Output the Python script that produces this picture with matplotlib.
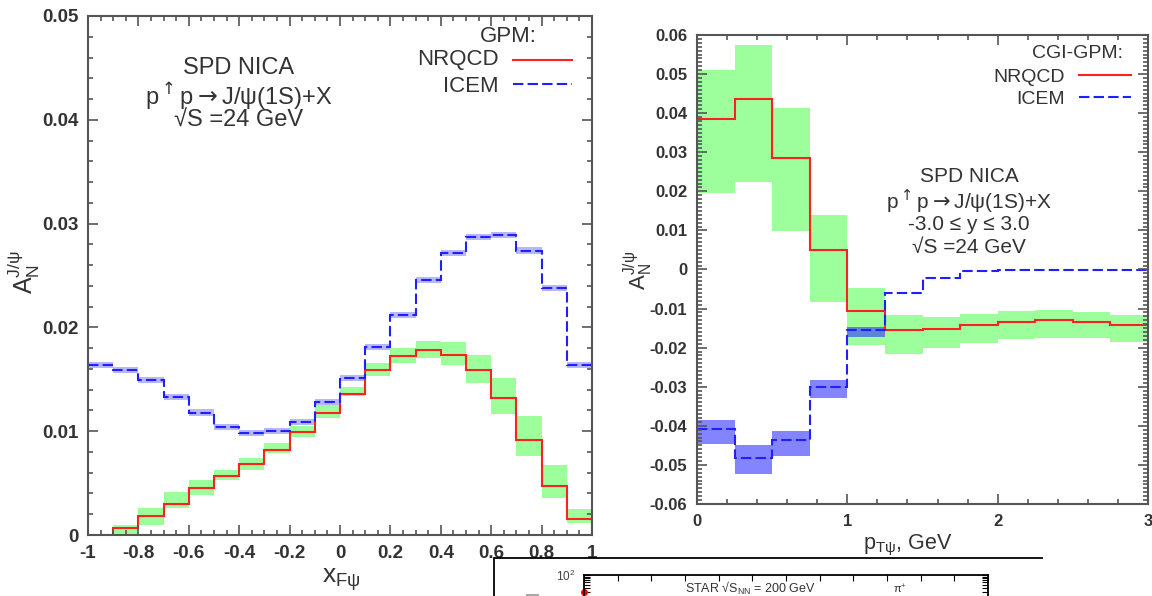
import numpy as np
import matplotlib.pyplot as plt
from matplotlib.lines import Line2D
from matplotlib.ticker import MultipleLocator, FuncFormatter

plt.rcParams['font.family'] = ['Liberation Sans', 'DejaVu Sans']
plt.rcParams['mathtext.fontset'] = 'custom'
plt.rcParams['mathtext.rm'] = 'Liberation Sans'
plt.rcParams['mathtext.it'] = 'Liberation Sans:italic'
plt.rcParams['mathtext.bf'] = 'Liberation Sans:bold'

W, H = 1152, 596

# left panel: A_N vs x_F (GPM)
xf_edges = np.round(np.linspace(-1, 1, 21), 3)
icem_xf = [0.0164, 0.0159, 0.0149, 0.0133, 0.0118, 0.0104, 0.0098, 0.0100, 0.0109, 0.0128,
           0.0151, 0.0181, 0.0212, 0.0246, 0.0272, 0.0287, 0.0289, 0.0274, 0.0238, 0.0164]
icem_xf_err = 0.0003
nrqcd_xf_edges = np.round(np.linspace(-0.9, 1, 20), 3)
nrqcd_xf = [0.00065, 0.0018, 0.0030, 0.0045, 0.0057, 0.0068, 0.0082, 0.0099, 0.0118, 0.0136,
            0.0159, 0.0172, 0.0178, 0.0173, 0.0159, 0.0132, 0.0092, 0.00475, 0.0015]
nrqcd_xf_lo = [0.0, 0.00096, 0.00257, 0.00385, 0.0053, 0.00626, 0.00787, 0.00947, 0.01124, 0.01339,
               0.01532, 0.01654, 0.01702, 0.01638, 0.01461, 0.01163, 0.00764, 0.00354, 0.00119]
nrqcd_xf_hi = [0.00096, 0.00257, 0.0041, 0.0053, 0.0063, 0.00745, 0.00883, 0.01053, 0.01252, 0.01429,
               0.01654, 0.01798, 0.01869, 0.01856, 0.01734, 0.01515, 0.01146, 0.00674, 0.00248]

# right panel: A_N vs pT (CGI-GPM)
pt_edges = np.linspace(0, 3, 13)
nrqcd_pt = [0.0386, 0.0435, 0.0286, 0.0050, -0.0106, -0.0155, -0.0152, -0.0142, -0.0134, -0.0129, -0.0134, -0.0142]
nrqcd_pt_hi = [0.0510, 0.0574, 0.0412, 0.0140, -0.0048, -0.0117, -0.0121, -0.0114, -0.0106, -0.0104, -0.0108, -0.0117]
nrqcd_pt_lo = [0.0197, 0.0224, 0.0099, -0.0083, -0.0192, -0.0217, -0.0200, -0.0189, -0.0179, -0.0174, -0.0176, -0.0185]
icem_pt = [-0.0407, -0.0482, -0.0435, -0.0300, -0.0155, -0.0061, -0.0021, -0.0004, 0.0, 0.0, 0.0, 0.0]
icem_pt_hi = [-0.0386, -0.0450, -0.0412, -0.0282, -0.0148]
icem_pt_lo = [-0.0446, -0.0523, -0.0476, -0.0328, -0.0172]

RED = '#ff2020'
BLUE = '#2020ff'
GREEN = '#9cff9c'
DASH = (0, (5, 2))
TXT = '#333333'


def px(x, y):
    return x / W, 1 - y / H


def axes_px(left, top, right, bottom):
    return [left / W, 1 - bottom / H, (right - left) / W, (bottom - top) / H]


def fmt(v, pos):
    v = round(v, 4)
    if v == 0:
        return '0'
    return f'{v:g}'


def style(ax, size):
    for s in ax.spines.values():
        s.set_linewidth(1.5)
        s.set_color('#555555')
    ax.tick_params(which='both', direction='in', top=True, right=True, color='#555555', width=1.2)
    ax.tick_params(which='major', length=7, labelsize=size, labelcolor=TXT, pad=7)
    ax.tick_params(which='minor', length=3.5)
    for lab in ax.get_xticklabels() + ax.get_yticklabels():
        lab.set_fontweight('bold')
    ax.xaxis.set_major_formatter(FuncFormatter(fmt))
    ax.yaxis.set_major_formatter(FuncFormatter(fmt))


fig = plt.figure(figsize=(W / 100, H / 100), dpi=100)

# ---- left panel
ax1 = fig.add_axes(axes_px(88, 16, 592, 535))
ax1.stairs(nrqcd_xf_hi, nrqcd_xf_edges, baseline=nrqcd_xf_lo, fill=True, color=GREEN, lw=0)
ax1.stairs(np.array(icem_xf) + icem_xf_err, xf_edges, baseline=np.array(icem_xf) - icem_xf_err,
           fill=True, color='#3333ff', alpha=0.35, lw=0)
ax1.stairs(nrqcd_xf, nrqcd_xf_edges, baseline=0, color=RED, lw=1.5)
ax1.stairs(icem_xf, xf_edges, baseline=None, color=BLUE, lw=1.5, linestyle=DASH)
ax1.set_xlim(-1, 1)
ax1.set_ylim(0, 0.05)
ax1.xaxis.set_major_locator(MultipleLocator(0.2))
ax1.xaxis.set_minor_locator(MultipleLocator(0.05))
ax1.yaxis.set_major_locator(MultipleLocator(0.01))
ax1.yaxis.set_minor_locator(MultipleLocator(0.002))
style(ax1, 13.5)

# ---- right panel
ax2 = fig.add_axes(axes_px(697, 35, 1148, 504))
ax2.stairs(nrqcd_pt_hi, pt_edges, baseline=nrqcd_pt_lo, fill=True, color=GREEN, lw=0)
ax2.stairs(icem_pt_hi, pt_edges[:len(icem_pt_hi) + 1], baseline=icem_pt_lo, fill=True,
           color='#3333ff', alpha=0.6, lw=0)
ax2.stairs(nrqcd_pt, pt_edges, baseline=None, color=RED, lw=1.5)
ax2.stairs(icem_pt, pt_edges, baseline=None, color=BLUE, lw=1.5, linestyle=DASH)
ax2.set_xlim(0, 3)
ax2.set_ylim(-0.06, 0.06)
ax2.xaxis.set_major_locator(MultipleLocator(1))
ax2.xaxis.set_minor_locator(MultipleLocator(0.2))
ax2.yaxis.set_major_locator(MultipleLocator(0.01))
ax2.yaxis.set_minor_locator(MultipleLocator(0.001))
style(ax2, 12)

# axis titles
ylab = r'$\mathregular{A_N^{J/\psi}}$'
fig.text(*px(24, 272), ylab, fontsize=18, color=TXT, rotation=90, ha='center', va='center')
fig.text(*px(638, 270), ylab, fontsize=16, color=TXT, rotation=90, ha='center', va='center')
fig.text(*px(341, 580), r'$\mathregular{x_{F\psi}}$', fontsize=19, color=TXT, ha='center', va='center')
fig.text(*px(908, 545), r'$\mathregular{p_{T\psi}}$, GeV', fontsize=15.5, color=TXT, ha='center', va='center')

# annotations (arrows taken from DejaVu math so they sit at mid height)
proc = r'p$^{\uparrow}$p$\rightarrow$J/ψ(1S)+X'
for txt, y in [('SPD NICA', 68), (proc, 96), ('√S =24 GeV', 121)]:
    fig.text(*px(239, y), txt, fontsize=17, color=TXT, ha='center', va='center',
             math_fontfamily='dejavusans')
for txt, y in [('SPD NICA', 177), (proc, 201), ('-3.0 ≤ y ≤ 3.0', 225), ('√S =24 GeV', 247)]:
    fig.text(*px(969, y), txt, fontsize=15, color=TXT, ha='center', va='center',
             math_fontfamily='dejavusans')

# legends
fig.text(*px(537, 36), 'GPM:', fontsize=16, color=TXT, ha='right', va='center')
fig.text(*px(499, 60), 'NRQCD', fontsize=16, color=TXT, ha='right', va='center')
fig.text(*px(499, 86), 'ICEM', fontsize=16, color=TXT, ha='right', va='center')
fig.add_artist(Line2D([513 / W, 572 / W], [1 - 60 / H] * 2, color=RED, lw=1.5))
fig.add_artist(Line2D([513 / W, 572 / W], [1 - 84 / H] * 2, color=BLUE, lw=1.5, linestyle=DASH))

fig.text(*px(1123, 54), 'CGI-GPM:', fontsize=14, color=TXT, ha='right', va='center')
fig.text(*px(1065, 77), 'NRQCD', fontsize=14, color=TXT, ha='right', va='center')
fig.text(*px(1065, 100), 'ICEM', fontsize=14, color=TXT, ha='right', va='center')
fig.add_artist(Line2D([1079 / W, 1131 / W], [1 - 75 / H] * 2, color=RED, lw=1.5))
fig.add_artist(Line2D([1079 / W, 1131 / W], [1 - 97 / H] * 2, color=BLUE, lw=1.5, linestyle=DASH))

# cropped piece of another figure at the bottom
fig.add_artist(Line2D([495 / W, 1042 / W], [1 - 558 / H] * 2, color='black', lw=1.3))
fig.add_artist(Line2D([494 / W, 494 / W], [1 - 558 / H, 0], color='black', lw=1.3))
fig.add_artist(Line2D([527 / W, 538 / W], [1 - 595 / H] * 2, color='#aaaaaa', lw=1.5))

star_x = [0.0]
star_y = [30]
ax3 = fig.add_axes(axes_px(584, 575, 988, 775))
ax3.set_yscale('log')
ax3.set_xlim(0, 12)
ax3.set_ylim(1e-4, 1e2)
ax3.plot(star_x, star_y, 'o', color='red', ms=4, clip_on=False)
ax3.spines['bottom'].set_visible(False)
for s in ['left', 'right', 'top']:
    ax3.spines[s].set_linewidth(1.3)
ax3.xaxis.set_major_locator(MultipleLocator(1))
ax3.tick_params(which='both', direction='in', top=True, right=True, bottom=False,
                labelbottom=False, length=4, width=0.8)
ax3.tick_params(axis='y', labelsize=8.5, labelcolor='#444444', pad=6)
ax3.set_yticks([1e2])
ax3.set_yticklabels([r'$\mathregular{10^2}$'])
fig.text(*px(750, 588), r'STAR √S$_{\mathregular{NN}}$ = 200 GeV', fontsize=9, color='#333333',
         ha='center', va='center')
fig.text(*px(900, 589), r'π$^{+}$', fontsize=8, color='#333333', ha='center', va='center')

fig.savefig('out.png', dpi=100)
